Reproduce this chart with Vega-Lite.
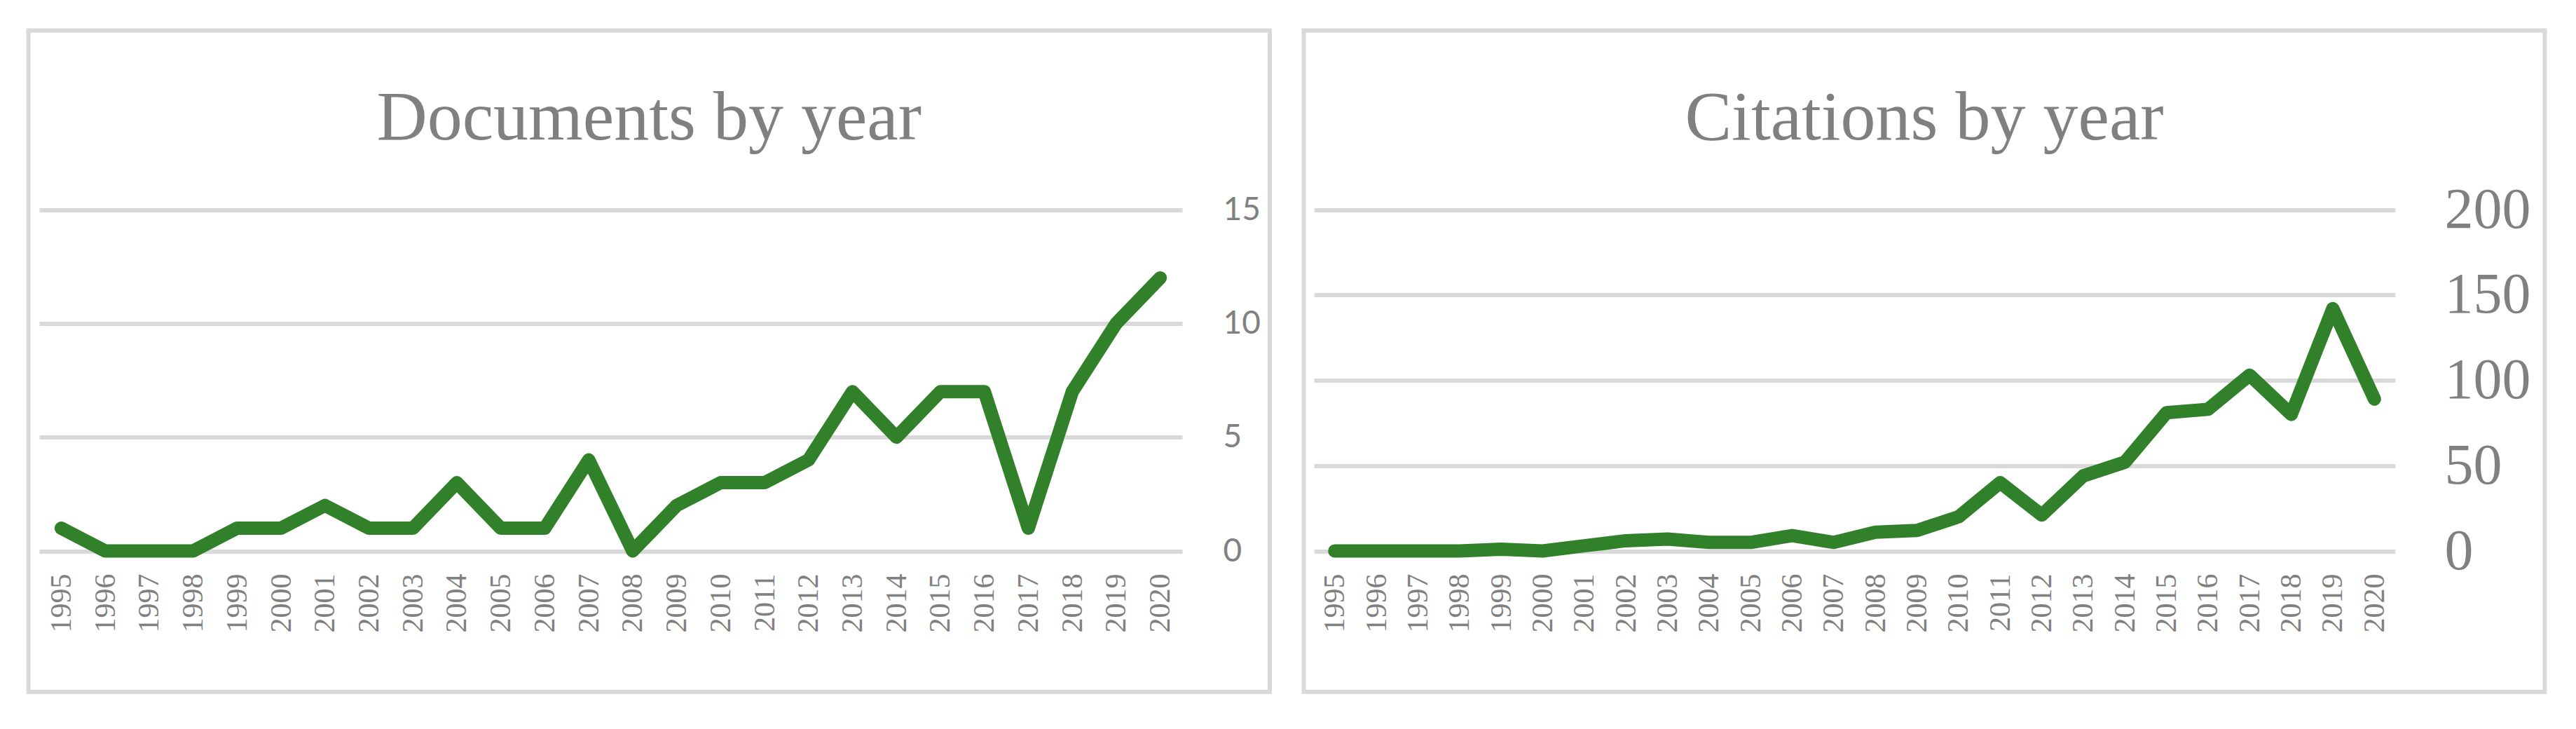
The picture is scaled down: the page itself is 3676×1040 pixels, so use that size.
{
  "$schema": "https://vega.github.io/schema/vega-lite/v6.json",
  "background": "white",
  "padding": {"left": 37.5, "top": 40.5, "right": 0, "bottom": 0},
  "spacing": 42,
  "config": {
    "view": {"stroke": "#D9D9D9", "strokeWidth": 6, "fill": "white"},
    "title": {"anchor": "middle", "frame": "group", "baseline": "alphabetic", "font": "Liberation Serif", "fontSize": 100, "fontWeight": "normal", "color": "#808080", "offset": -176}
  },
  "data": {"values": [
    {"year": "1995", "documents": 1, "citations": 0},
    {"year": "1996", "documents": 0, "citations": 0},
    {"year": "1997", "documents": 0, "citations": 0},
    {"year": "1998", "documents": 0, "citations": 0},
    {"year": "1999", "documents": 1, "citations": 1},
    {"year": "2000", "documents": 1, "citations": 0},
    {"year": "2001", "documents": 2, "citations": 3},
    {"year": "2002", "documents": 1, "citations": 6},
    {"year": "2003", "documents": 1, "citations": 7},
    {"year": "2004", "documents": 3, "citations": 5},
    {"year": "2005", "documents": 1, "citations": 5},
    {"year": "2006", "documents": 1, "citations": 9},
    {"year": "2007", "documents": 4, "citations": 5},
    {"year": "2008", "documents": 0, "citations": 11},
    {"year": "2009", "documents": 2, "citations": 12},
    {"year": "2010", "documents": 3, "citations": 20},
    {"year": "2011", "documents": 3, "citations": 40},
    {"year": "2012", "documents": 4, "citations": 21},
    {"year": "2013", "documents": 7, "citations": 44},
    {"year": "2014", "documents": 5, "citations": 52},
    {"year": "2015", "documents": 7, "citations": 81},
    {"year": "2016", "documents": 7, "citations": 83},
    {"year": "2017", "documents": 1, "citations": 103},
    {"year": "2018", "documents": 7, "citations": 80},
    {"year": "2019", "documents": 10, "citations": 142},
    {"year": "2020", "documents": 12, "citations": 89}
  ]},
  "hconcat": [
    {
      "width": 1771.5,
      "height": 943.5,
      "title": {"text": "Documents by year"},
      "mark": {"type": "line", "color": "#31812A", "strokeWidth": 19, "strokeCap": "round", "strokeJoin": "round"},
      "encoding": {
        "x": {
          "field": "year", "type": "ordinal",
          "scale": {"type": "point", "padding": 0.5, "range": [15.5, 1646.5]},
          "axis": {"orient": "bottom", "offset": -169, "title": null, "domain": false, "ticks": false, "tickSize": 0, "labelPadding": 0, "labelAngle": -90, "labelFont": "Liberation Serif", "labelFontSize": 42, "labelColor": "#808080", "grid": false, "labelOverlap": false}
        },
        "y": {
          "field": "documents", "type": "quantitative",
          "scale": {"domain": [0, 15], "range": [742.5, 255.5], "nice": false},
          "axis": {"orient": "left", "offset": -1704.5, "title": null, "values": [0, 5, 10, 15], "domain": false, "ticks": false, "tickSize": 0, "labelPadding": 0, "labelAlign": "left", "labelBaseline": "middle", "labelFont": "Lato", "labelFontSize": 46, "labelColor": "#808080", "grid": true, "gridColor": "#D9D9D9", "gridWidth": 6}
        }
      }
    },
    {
      "width": 1771,
      "height": 943.5,
      "title": {"text": "Citations by year"},
      "mark": {"type": "line", "color": "#31812A", "strokeWidth": 19, "strokeCap": "round", "strokeJoin": "round"},
      "encoding": {
        "x": {
          "field": "year", "type": "ordinal",
          "scale": {"type": "point", "padding": 0.5, "range": [14.5, 1557.5]},
          "axis": {"orient": "bottom", "offset": -169, "title": null, "domain": false, "ticks": false, "tickSize": 0, "labelPadding": 0, "labelAngle": -90, "labelFont": "Liberation Serif", "labelFontSize": 42, "labelColor": "#808080", "grid": false, "labelOverlap": false}
        },
        "y": {
          "field": "citations", "type": "quantitative",
          "scale": {"domain": [0, 200], "range": [742.5, 255.5], "nice": false},
          "axis": {"orient": "left", "offset": -1627.5, "title": null, "values": [0, 50, 100, 150, 200], "domain": false, "ticks": false, "tickSize": 0, "labelPadding": 0, "labelAlign": "left", "labelBaseline": "middle", "labelFont": "Liberation Serif", "labelFontSize": 82, "labelColor": "#808080", "grid": true, "gridColor": "#D9D9D9", "gridWidth": 6}
        }
      }
    }
  ]
}
